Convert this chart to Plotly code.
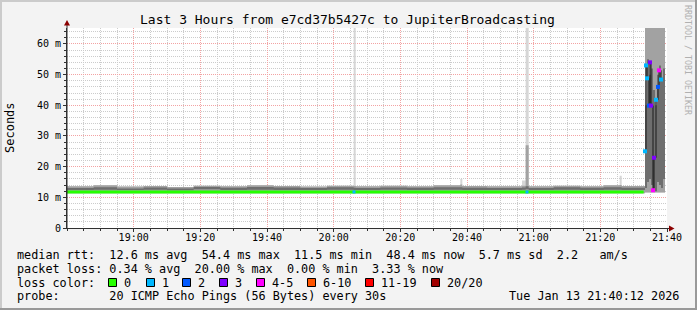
import plotly.graph_objects as go

DAY = "2026-01-13 "

# ---------------- data ----------------
smoke_times = ["18:40:00", "18:48:00", "18:55:00", "19:03:00", "19:10:00", "19:18:00",
               "19:26:00", "19:34:00", "19:42:00", "19:50:00", "19:58:00", "20:06:00",
               "20:06:36", "20:14:00", "20:22:00", "20:30:00", "20:38:00", "20:38:36",
               "20:46:00", "20:56:30", "20:57:36", "20:58:30", "21:06:00", "21:14:00",
               "21:21:00", "21:25:48", "21:26:24", "21:33:24", "21:34:00", "21:34:36",
               "21:35:12", "21:35:48", "21:36:24", "21:37:00", "21:37:36", "21:38:12",
               "21:38:48", "21:39:24"]
smoke_lo = [11.3, 11.3, 11.3, 11.3, 11.3, 11.3, 11.3, 11.3, 11.3, 11.3, 11.3, 11.3,
            11.3, 11.3, 11.3, 11.3, 11.3, 11.3, 11.3, 11.3, 11.3, 11.3, 11.3, 11.3,
            11.3, 11.3, 11.3, 11.6, 11.6, 11.6, 11.6, 11.6, 11.6, 11.6, 11.6, 11.6,
            11.6, 11.6]
smoke_outer = [13.6, 13.9, 13.5, 13.7, 13.4, 13.8, 13.6, 13.9, 13.7, 13.5, 13.8, 80.0,
               13.6, 13.8, 13.6, 13.9, 16.0, 13.7, 13.6, 15.5, 80.0, 13.6, 13.8, 13.6,
               13.9, 17.0, 13.7, 80.0, 80.0, 80.0, 80.0, 80.0, 80.0, 80.0, 80.0, 80.0,
               80.0, 11.6]
smoke_hi = [13.6, 13.9, 13.5, 13.7, 13.4, 13.8, 13.6, 13.9, 13.7, 13.5, 13.8, 13.7,
            13.6, 13.8, 13.6, 13.9, 14.2, 13.7, 13.6, 13.8, 27.0, 13.6, 13.8, 13.6,
            13.9, 14.0, 13.7, 80.0, 80.0, 80.0, 80.0, 80.0, 80.0, 80.0, 80.0, 80.0,
            80.0, 11.6]
smoke_q1 = [12.4, 12.5, 12.4, 12.5, 12.3, 12.6, 12.4, 12.5, 12.4, 12.4, 12.5, 12.4,
            12.4, 12.5, 12.4, 12.5, 12.5, 12.4, 12.4, 12.5, 12.6, 12.4, 12.5, 12.4,
            12.5, 12.5, 12.4, 13.0, 15.0, 16.0, 14.0, 13.0, 12.0, 15.0, 14.0, 13.0,
            16.0, 11.6]
smoke_q3 = [13.0, 13.3, 12.9, 13.2, 12.9, 13.4, 13.1, 13.4, 13.2, 13.0, 13.3, 13.1,
            13.0, 13.2, 13.1, 13.3, 13.3, 13.1, 13.0, 13.2, 13.6, 13.0, 13.3, 13.1,
            13.3, 13.3, 13.1, 40.0, 55.0, 50.0, 52.0, 45.0, 40.0, 50.0, 53.0, 49.0,
            52.0, 11.6]

median_times = ["18:40:00", "21:33:00"]
median_values = [11.75, 11.75]

spike_median_times = ["21:33:24", "21:33:42", "21:34:00", "21:34:36", "21:34:54", "21:35:12",
                      "21:35:48", "21:36:06", "21:36:42", "21:37:18", "21:37:36", "21:38:12"]
spike_median_values = [25.0, 53.0, 48.8, 39.9, 54.0, 39.9, 12.3, 22.9, 41.8, 46.0, 51.4, 48.4]
spike_median_loss = [1, 1, 1, 2, 3, 3, 4, 3, 1, 2, 4, 1]

blip_times = ["20:06:06", "20:58:00"]
blip_values = [11.75, 11.75]
blip_loss = [1, 1]

loss_labels = ["0", "1", "2", "3", "4-5", "6-10", "11-19", "20/20"]
loss_colors = ["#26ff00", "#00b8ff", "#0059ff", "#7e00ff", "#ff00ff", "#ff5500", "#ff0000", "#a10000"]

x_tick_labels = ["19:00", "19:20", "19:40", "20:00", "20:20", "20:40", "21:00", "21:20", "21:40"]
y_tick_values = [0, 10, 20, 30, 40, 50, 60]
y_tick_labels = ["0", "10 m", "20 m", "30 m", "40 m", "50 m", "60 m"]

title_text = "Last 3 Hours from e7cd37b5427c to JupiterBroadcasting"
stat_lines = [
    "median rtt:  12.6 ms avg  54.4 ms max  11.5 ms min  48.4 ms now  5.7 ms sd  2.2   am/s",
    "packet loss: 0.34 % avg  20.00 % max  0.00 % min  3.33 % now",
    "loss color:",
    "probe:       20 ICMP Echo Pings (56 Bytes) every 30s",
]
date_text = "Tue Jan 13 21:40:12 2026"
side_text = "RRDTOOL / TOBI OETIKER"

# ---------------- geometry helpers ----------------
W, H = 697, 310
ML, MR, MT, MB = 67, 30, 28, 82
PW, PH = W - ML - MR, H - MT - MB


def fx(px):
    return (px - ML) / PW


def fy(py):
    return (H - MB - py) / PH


def T(lst):
    return [DAY + t for t in lst]


MONO = "DejaVu Sans Mono"
NB = "\u00a0"

fig = go.Figure()

# smoke: outer (lightest)
fig.add_trace(go.Scatter(x=T(smoke_times), y=smoke_lo, mode="lines",
                         line=dict(width=0, shape="hv"), hoverinfo="skip"))
fig.add_trace(go.Scatter(x=T(smoke_times), y=smoke_outer, mode="lines", fill="tonexty",
                         fillcolor="#d6d6d6", line=dict(width=0, shape="hv"), hoverinfo="skip"))
# smoke: main band
fig.add_trace(go.Scatter(x=T(smoke_times), y=smoke_lo, mode="lines",
                         line=dict(width=0, shape="hv"), hoverinfo="skip"))
fig.add_trace(go.Scatter(x=T(smoke_times), y=smoke_hi, mode="lines", fill="tonexty",
                         fillcolor="#a2a2a2", line=dict(width=0, shape="hv"), hoverinfo="skip"))
# smoke: dark core
fig.add_trace(go.Scatter(x=T(smoke_times), y=smoke_q1, mode="lines",
                         line=dict(width=0, shape="hv"), hoverinfo="skip"))
fig.add_trace(go.Scatter(x=T(smoke_times), y=smoke_q3, mode="lines", fill="tonexty",
                         fillcolor="#6e6e6e", line=dict(width=0, shape="hv"), hoverinfo="skip"))

# median (no loss)
fig.add_trace(go.Scatter(x=T(median_times), y=median_values, mode="lines",
                         line=dict(color=loss_colors[0], width=3), hoverinfo="skip"))
# median with loss in the spike
fig.add_trace(go.Scatter(x=T(spike_median_times), y=spike_median_values, mode="lines+markers",
                         line=dict(color="#1a1a1a", width=1, shape="hv"),
                         marker=dict(symbol="square", size=4,
                                     color=[loss_colors[i] for i in spike_median_loss],
                                     line=dict(width=0)),
                         hoverinfo="skip"))
fig.add_trace(go.Scatter(x=T(blip_times), y=blip_values, mode="markers",
                         marker=dict(symbol="square", size=3,
                                     color=[loss_colors[i] for i in blip_loss], line=dict(width=0)),
                         hoverinfo="skip"))

axis_col = "#303030"
fig.update_layout(
    width=W, height=H,
    margin=dict(l=ML, r=MR, t=MT, b=MB, autoexpand=False),
    paper_bgcolor="#f3f3f3", plot_bgcolor="#ffffff",
    showlegend=False,
    font=dict(family=MONO, size=10, color="#000000"),
    xaxis=dict(
        type="date", range=[DAY + "18:40:00", DAY + "21:40:00"],
        tickmode="array", tickvals=T(x_tick_labels), ticktext=x_tick_labels,
        showgrid=True, gridcolor="#f3a3a3", griddash="1px,1px", gridwidth=1,
        showline=True, linecolor=axis_col, linewidth=1,
        ticks="outside", ticklen=3, tickcolor=axis_col, ticklabelstandoff=-3,
        minor=dict(dtick=300000, tick0=DAY + "18:40:00", showgrid=True, gridcolor="#cccccc",
                   griddash="1px,1px", ticks="outside", ticklen=2, tickcolor=axis_col),
        zeroline=False, fixedrange=True, tickfont=dict(family=MONO, size=10),
    ),
    yaxis=dict(
        range=[0, 65.2],
        tickmode="array", tickvals=y_tick_values, ticktext=y_tick_labels,
        showgrid=True, gridcolor="#f3a3a3", griddash="1px,1px", gridwidth=1,
        showline=True, linecolor=axis_col, linewidth=1,
        ticks="outside", ticklen=3, tickcolor=axis_col,
        minor=dict(dtick=2, tick0=0, showgrid=True, gridcolor="#cccccc",
                   griddash="1px,1px", ticks="outside", ticklen=2, tickcolor=axis_col),
        zeroline=False, fixedrange=True, tickfont=dict(family=MONO, size=10),
    ),
)

ann = []


def add_text(text, x, y, size, xanchor="left", color="#000000", angle=0):
    ann.append(dict(text=text.replace(" ", NB), x=fx(x), y=fy(y), xref="paper", yref="paper",
                    xanchor=xanchor, yanchor="middle", showarrow=False, borderpad=0,
                    textangle=angle, font=dict(family=MONO, size=size, color=color)))


add_text(title_text, 347.5, 19, 13, xanchor="center")
add_text("Seconds", 10, 128, 12, xanchor="center", angle=-90)
add_text(side_text, 688, 60, 8.3, xanchor="center", color="#b0b0b0", angle=90)

line_y = [255, 268.8, 282.6, 296.4]
for txt, yy in zip(stat_lines, line_y):
    add_text(txt, 16, yy, 11.8)
add_text(date_text, 680, line_y[3], 11.8, xanchor="right")

square_x = [108, 146, 182, 219, 256, 307, 365, 431]
shapes = []
for sx, lab, col in zip(square_x, loss_labels, loss_colors):
    shapes.append(dict(type="rect", xref="paper", yref="paper",
                       x0=fx(sx + 0.5), x1=fx(sx + 8.5), y0=fy(278.5), y1=fy(286.5),
                       fillcolor=col, line=dict(color="#000000", width=1)))
    add_text(lab, sx + 15, line_y[2], 11.8)

# axis extensions and arrows
shapes.append(dict(type="line", xref="paper", yref="paper", x0=fx(67), x1=fx(67),
                   y0=fy(228), y1=fy(23), line=dict(color=axis_col, width=1)))
shapes.append(dict(type="line", xref="paper", yref="paper", x0=fx(67), x1=fx(671),
                   y0=fy(228.5), y1=fy(228.5), line=dict(color=axis_col, width=1)))
shapes.append(dict(type="path", xref="paper", yref="paper",
                   path=f"M {fx(64)} {fy(25.5)} L {fx(70)} {fy(25.5)} L {fx(67)} {fy(20)} Z",
                   fillcolor="#8b0000", line=dict(width=0)))
shapes.append(dict(type="path", xref="paper", yref="paper",
                   path=f"M {fx(669)} {fy(225.5)} L {fx(669)} {fy(231.5)} L {fx(674.5)} {fy(228.5)} Z",
                   fillcolor="#8b0000", line=dict(width=0)))

# 3D frame
shapes.append(dict(type="line", xref="paper", yref="paper", x0=fx(0), x1=fx(W), y0=fy(1), y1=fy(1),
                   line=dict(color="#cbcbcb", width=2)))
shapes.append(dict(type="line", xref="paper", yref="paper", x0=fx(1), x1=fx(1), y0=fy(0), y1=fy(H),
                   line=dict(color="#cbcbcb", width=2)))
shapes.append(dict(type="line", xref="paper", yref="paper", x0=fx(0), x1=fx(W), y0=fy(H - 1), y1=fy(H - 1),
                   line=dict(color="#999999", width=2)))
shapes.append(dict(type="line", xref="paper", yref="paper", x0=fx(W - 1), x1=fx(W - 1), y0=fy(0), y1=fy(H),
                   line=dict(color="#999999", width=2)))

fig.update_layout(annotations=ann, shapes=shapes)

fig.write_html("out.html")
